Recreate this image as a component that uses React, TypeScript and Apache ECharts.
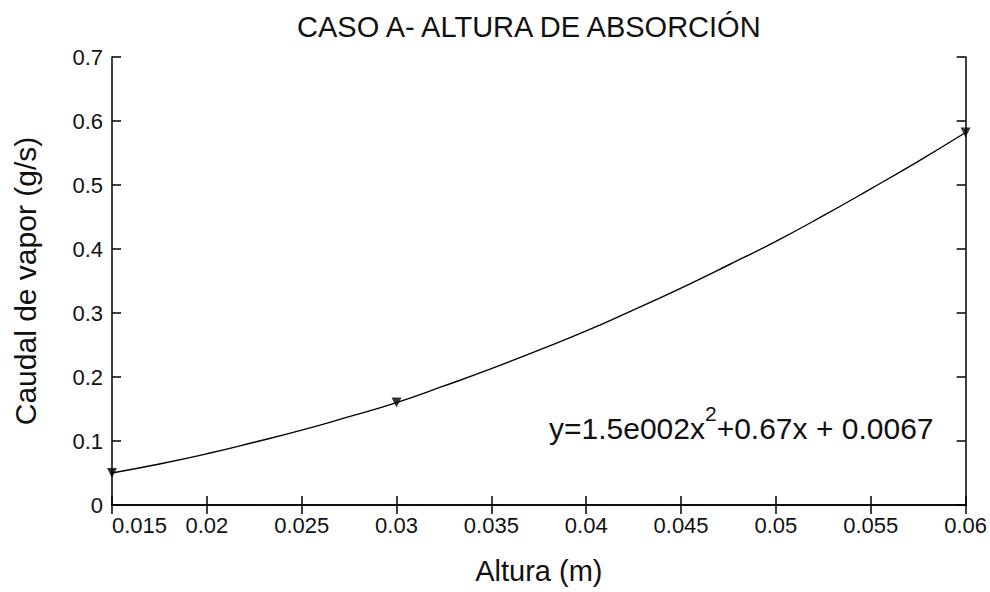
import React, { useEffect, useRef } from "react";
import * as echarts from "echarts";

const TITLE = "CASO A- ALTURA DE ABSORCIÓN";
const X_NAME = "Altura (m)";
const Y_NAME = "Caudal de vapor (g/s)";
const EQUATION_MAIN = "y=1.5e002x";
const EQUATION_SUP = "2";
const EQUATION_REST = "+0.67x + 0.0067";

// measured points
const measuredX = [0.015, 0.03, 0.06];
const measuredY = [0.05, 0.16, 0.582];

// fitted curve
const curveX = [
  0.015, 0.0175, 0.02, 0.0225, 0.025, 0.0275, 0.03, 0.0325, 0.035, 0.0375,
  0.04, 0.0425, 0.045, 0.0475, 0.05, 0.0525, 0.055, 0.0575, 0.06,
];
const curveY = [
  0.05, 0.064, 0.08, 0.098, 0.117, 0.138, 0.16, 0.186, 0.213, 0.242,
  0.272, 0.305, 0.339, 0.375, 0.412, 0.452, 0.494, 0.537, 0.582,
];

const X_MIN = 0.015;
const X_MAX = 0.06;
const X_STEP = 0.005;
const Y_MIN = 0;
const Y_MAX = 0.7;
const Y_STEP = 0.1;

const FONT = "'Liberation Sans', Arial, Helvetica, sans-serif";
const INK = "#111";

export default function App() {
  const ref = useRef<HTMLDivElement>(null);

  useEffect(() => {
    if (!ref.current) return;
    const chart = echarts.init(ref.current, undefined, { renderer: "svg" });

    const axisLine = { show: true, lineStyle: { color: "#000", width: 1.5 } };
    const axisTick = { show: true, inside: true, length: 9, lineStyle: { color: "#000", width: 1.5 } };

    chart.setOption({
      animation: false,
      backgroundColor: "#fff",
      textStyle: { fontFamily: FONT },
      title: {
        text: TITLE,
        left: 297,
        top: 12,
        padding: 0,
        textStyle: { fontSize: 29, fontWeight: "normal", color: INK, fontFamily: FONT },
      },
      grid: { left: 112, right: 22, top: 57, bottom: 87, containLabel: false },
      xAxis: [
        {
          type: "value",
          min: X_MIN,
          max: X_MAX,
          interval: X_STEP,
          position: "bottom",
          name: X_NAME,
          nameLocation: "middle",
          nameGap: 51,
          nameTextStyle: { fontSize: 29, color: INK, fontFamily: FONT },
          axisLine,
          axisTick,
          splitLine: { show: false },
          axisLabel: {
            fontSize: 22,
            color: INK,
            margin: 9,
            fontFamily: FONT,
            alignMinLabel: "left",
            formatter: (v: number) => String(parseFloat(v.toFixed(4))),
          },
        },
        {
          type: "value",
          min: X_MIN,
          max: X_MAX,
          interval: X_STEP,
          position: "top",
          axisLine,
          axisTick,
          splitLine: { show: false },
          axisLabel: { show: false },
        },
      ],
      yAxis: [
        {
          type: "value",
          min: Y_MIN,
          max: Y_MAX,
          interval: Y_STEP,
          position: "left",
          name: Y_NAME,
          nameLocation: "middle",
          nameRotate: 90,
          nameGap: 72,
          nameTextStyle: { fontSize: 30, color: INK, fontFamily: FONT },
          axisLine,
          axisTick,
          splitLine: { show: false },
          axisLabel: {
            fontSize: 22,
            color: INK,
            margin: 9,
            fontFamily: FONT,
            formatter: (v: number) => String(parseFloat(v.toFixed(4))),
          },
        },
        {
          type: "value",
          min: Y_MIN,
          max: Y_MAX,
          interval: Y_STEP,
          position: "right",
          axisLine,
          axisTick,
          splitLine: { show: false },
          axisLabel: { show: false },
        },
      ],
      series: [
        {
          type: "line",
          name: "ajuste",
          xAxisIndex: 0,
          yAxisIndex: 0,
          data: curveX.map((x, i) => [x, curveY[i]]),
          showSymbol: false,
          smooth: true,
          lineStyle: { color: "#000", width: 1.4 },
          clip: false,
        },
        {
          type: "scatter",
          name: "medidas",
          xAxisIndex: 0,
          yAxisIndex: 0,
          data: measuredX.map((x, i) => [x, measuredY[i]]),
          symbol: "triangle",
          symbolRotate: 180,
          symbolSize: 10,
          itemStyle: { color: "#000" },
          clip: false,
        },
      ],
      graphic: [
        {
          type: "text",
          x: 549,
          y: 403,
          style: {
            text: `{a|${EQUATION_MAIN}}{b|${EQUATION_SUP}}{a|${EQUATION_REST}}`,
            verticalAlign: "top",
            align: "left",
            rich: {
              a: { fontSize: 30, lineHeight: 50, fontFamily: FONT, fill: INK, color: INK },
              b: { fontSize: 21, lineHeight: 21, verticalAlign: "top", fontFamily: FONT, fill: INK, color: INK },
            },
          },
        },
      ],
    });

    return () => chart.dispose();
  }, []);

  return (
    <div
      ref={ref}
      style={{ position: "absolute", left: 0, top: 0, width: 990, height: 592 }}
    />
  );
}
